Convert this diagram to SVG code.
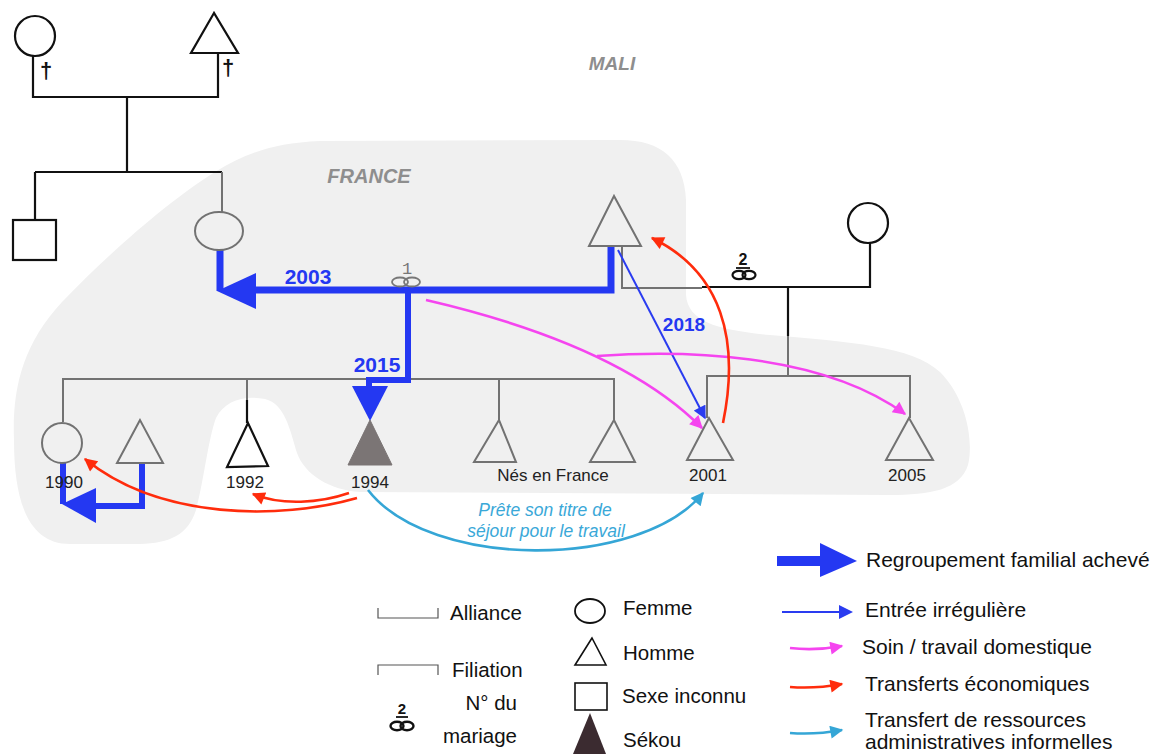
<svg xmlns="http://www.w3.org/2000/svg" width="1161" height="754" viewBox="0 0 1161 754">
<style>
.t{font-family:"Liberation Sans",Arial,sans-serif;}
.lbl{font-size:17px;fill:#222;text-anchor:middle;}
.yr{font-size:21px;font-weight:bold;fill:#2438f2;text-anchor:middle;}
.reg{font-size:20px;font-weight:bold;font-style:italic;fill:#8e8e8e;text-anchor:middle;}
.leg{font-size:20.5px;fill:#111;}
.legr{font-size:21px;fill:#111;}
.cy{font-size:17.5px;font-style:italic;fill:#3aa8d8;text-anchor:middle;}
.k{stroke:#111;stroke-width:2.2;fill:none;}
.g{stroke:#727272;stroke-width:2;fill:none;}
.blue{stroke:#2438f2;stroke-width:7;fill:none;}
.bluef{fill:#2438f2;}
.mag{stroke:#f545ef;stroke-width:2.6;fill:none;marker-end:url(#am);}
.red{stroke:#ff2c0c;stroke-width:2.6;fill:none;marker-end:url(#ar);}
.cyl{stroke:#35a6d6;stroke-width:2.6;fill:none;marker-end:url(#ac);}
.thin{stroke:#2a3cf0;stroke-width:2;fill:none;marker-end:url(#ab);}
</style>
<defs>
<marker id="am" viewBox="0 0 10 10" refX="9" refY="5" markerWidth="15" markerHeight="13" markerUnits="userSpaceOnUse" orient="auto"><path d="M0,0 L10,5 L0,10 z" fill="#f545ef"/></marker>
<marker id="ar" viewBox="0 0 10 10" refX="9" refY="5" markerWidth="15" markerHeight="13" markerUnits="userSpaceOnUse" orient="auto"><path d="M0,0 L10,5 L0,10 z" fill="#ff2c0c"/></marker>
<marker id="ac" viewBox="0 0 10 10" refX="9" refY="5" markerWidth="15" markerHeight="13" markerUnits="userSpaceOnUse" orient="auto"><path d="M0,0 L10,5 L0,10 z" fill="#35a6d6"/></marker>
<marker id="ab" viewBox="0 0 10 10" refX="9" refY="5" markerWidth="14" markerHeight="13" markerUnits="userSpaceOnUse" orient="auto"><path d="M0,0 L10,5 L0,10 z" fill="#2a3cf0"/></marker>
</defs>
<rect x="0" y="0" width="1161" height="754" fill="#ffffff"/>

<g id="france-region">
<path d="M 14,440 C 12,390 22,345 62,302 C 110,252 170,200 215,172 C 245,154 272,143 320,141 L 620,140 C 662,140 684,160 686,200 L 686,295 C 688,322 718,330 770,335 C 850,342 912,346 940,372 C 966,398 974,440 968,465 C 960,490 930,495 890,495 L 360,492 C 330,490 305,475 297,453 C 290,430 285,404 265,399 C 245,395 225,400 216,418 C 208,440 204,480 196,510 C 188,535 170,543 140,544 L 70,544 C 30,544 14,505 14,440 Z" fill="#f0f0f0"/>
<text class="t reg" x="369" y="183">FRANCE</text>
<text class="t reg" x="612" y="70" style="font-size:19px">MALI</text>
</g>

<g id="connectors">
<path class="k" d="M33,55 V97 H218 V53"/>
<path class="k" d="M127,97 V172"/>
<path class="k" d="M35,172 H222"/>
<path class="k" d="M35,172 V219"/>
<path class="g" d="M222,172 V212"/>
<path class="g" d="M622,247 V288 H702"/>
<path class="k" d="M702,287 H870 V242"/>
<path class="k" d="M788,287 V336"/>
<path class="g" d="M788,336 V376"/>
<path class="g" d="M707,418 V376 H910 V418"/>
<path class="g" d="M63,422 V379 H614 V420"/>
<path class="g" d="M247,379 V400"/>
<path class="k" d="M247,400 V423"/>
<path class="g" d="M499,379 V420"/>
<path class="blue" d="M220,250 V291"/>
<path class="blue" d="M250,290 H611 V247"/>
<polygon class="bluef" points="217,291 256,273 256,309"/>
<path class="blue" style="stroke-width:6" d="M408,290 V380 H369 V390"/>
<polygon class="bluef" points="352,386 388,386 370,421"/>
<path class="blue" style="stroke-width:6" d="M63,463 V504"/>
<path class="blue" style="stroke-width:6" d="M142,463 V506 H94"/>
<polygon class="bluef" points="62,504 96,488 96,523"/>
<path class="thin" d="M618,250 L705,418"/>
<text class="t yr" x="684" y="331" style="font-size:19px">2018</text>
<path class="mag" d="M426,300 Q 620,345 702,428"/>
<path class="mag" d="M597,356 C 680,350 820,352 905,414"/>
<path class="red" d="M723,423 C 740,340 722,272 652,238"/>
<path class="red" d="M349,493 C 320,503 282,506 253,494"/>
<path class="red" d="M357,498 C 280,520 160,520 85,459"/>
<path class="cyl" d="M368,490 C 430,570 640,570 703,493"/>
<text class="t cy" x="545" y="516">Prête son titre de</text>
<text class="t cy" x="546" y="537">séjour pour le travail</text>
<text class="t yr" x="308" y="284">2003</text>
<text class="t yr" x="377" y="372">2015</text>
</g>

<g id="marriage1">
<text x="407" y="274" style="font-family:'Liberation Mono',monospace;font-size:17px;fill:#777;text-anchor:middle">1</text>
<ellipse cx="400" cy="282" rx="8" ry="4.5" fill="none" stroke="#777" stroke-width="1.8"/>
<ellipse cx="412" cy="282" rx="8" ry="4.5" fill="none" stroke="#777" stroke-width="1.8"/>
</g>
<g id="marriage2">
<text x="743" y="265" style="font-family:'Liberation Sans',Arial,sans-serif;font-size:16px;font-weight:bold;fill:#111;text-anchor:middle">2</text>
<line x1="736" y1="268" x2="750" y2="268" stroke="#111" stroke-width="1.8"/>
<ellipse cx="739" cy="275" rx="6.5" ry="4.2" fill="none" stroke="#111" stroke-width="2.2"/>
<ellipse cx="749" cy="275" rx="6.5" ry="4.2" fill="none" stroke="#111" stroke-width="2.2"/>
</g>

<g id="grandmother">
<circle cx="35" cy="36" r="20" class="k"/>
<text x="46" y="78" style="font-family:'Liberation Sans',Arial,sans-serif;font-size:22px;font-weight:bold;fill:#111;text-anchor:middle">†</text>
</g>
<g id="grandfather">
<polygon points="214,13 191,53 238,53" class="k"/>
<text x="228" y="75" style="font-family:'Liberation Sans',Arial,sans-serif;font-size:22px;font-weight:bold;fill:#111;text-anchor:middle">†</text>
</g>
<g id="uncle-unknown"><rect x="13" y="220" width="43" height="40" class="k"/></g>
<g id="mother"><ellipse cx="219" cy="231" rx="24" ry="19" class="g"/></g>
<g id="father"><polygon points="614,196 589,246 641,246" class="g"/></g>
<g id="second-wife"><circle cx="868" cy="223" r="20" class="k"/></g>

<g id="child-1990"><circle cx="62" cy="443" r="20" class="g"/><text class="t lbl" x="64" y="488">1990</text></g>
<g id="child-brother"><polygon points="140,420 117,463 163,463" class="g"/></g>
<g id="child-1992"><polygon points="248,423 227,467 268,466" class="k"/><text class="t lbl" x="245" y="488">1992</text></g>
<g id="sekou"><polygon points="370,420 348,465 392,465" fill="#7b7575" stroke="#7b7575" stroke-width="1"/><text class="t lbl" x="370" y="488">1994</text></g>
<g id="born-france-1"><polygon points="499,420 474,462 516,462" class="g"/></g>
<g id="born-france-2"><polygon points="614,420 590,462 635,462" class="g"/><text class="t lbl" x="553" y="481">Nés en France</text></g>
<g id="child-2001"><polygon points="709,418 687,460 733,460" class="g"/><text class="t lbl" x="708" y="481">2001</text></g>
<g id="child-2005"><polygon points="909,418 886,460 933,460" class="g"/><text class="t lbl" x="907" y="481">2005</text></g>

<g id="legend-left">
<polyline points="378,608 378,618 438,618 438,608" fill="none" stroke="#555" stroke-width="1.2"/>
<text class="t leg" x="450" y="620">Alliance</text>
<polyline points="378,675 378,665 438,665 438,675" fill="none" stroke="#555" stroke-width="1.2"/>
<text class="t leg" x="452" y="677">Filiation</text>
<text x="402" y="714" style="font-family:'Liberation Sans',Arial,sans-serif;font-size:15px;font-weight:bold;fill:#111;text-anchor:middle">2</text>
<line x1="396" y1="717" x2="408" y2="717" stroke="#111" stroke-width="1.8"/>
<ellipse cx="397" cy="726" rx="6.5" ry="4.2" fill="none" stroke="#111" stroke-width="2.4"/>
<ellipse cx="407" cy="726" rx="6.5" ry="4.2" fill="none" stroke="#111" stroke-width="2.4"/>
<text class="t leg" x="517" y="710" text-anchor="end">N° du</text>
<text class="t leg" x="517" y="743" text-anchor="end">mariage</text>
<ellipse cx="590" cy="611" rx="15" ry="12" fill="none" stroke="#111" stroke-width="1.8"/>
<text class="t leg" x="623" y="615">Femme</text>
<polygon points="592,638 575,665 606,665" fill="none" stroke="#111" stroke-width="1.6"/>
<text class="t leg" x="623" y="660">Homme</text>
<rect x="575" y="683" width="32" height="27" fill="none" stroke="#111" stroke-width="1.6"/>
<text class="t leg" x="622" y="703">Sexe inconnu</text>
<polygon points="590,713 573,754 606,754" fill="#3b2b30"/>
<text class="t leg" x="623" y="747">Sékou</text>
</g>

<g id="legend-right">
<rect x="777" y="556" width="46" height="10" fill="#2438f2"/>
<polygon points="820,543 857,561 820,577" fill="#2438f2"/>
<text class="t legr" x="866" y="567">Regroupement familial achevé</text>
<line x1="782" y1="612" x2="841" y2="612" stroke="#2a3cf0" stroke-width="2"/>
<polygon points="839,605 853,612 839,619" fill="#2a3cf0"/>
<text class="t legr" x="865" y="617">Entrée irrégulière</text>
<path class="mag" d="M790,648 Q 815,651 842,646"/>
<text class="t legr" x="862" y="654">Soin / travail domestique</text>
<path class="red" d="M790,687 Q 815,689 842,684"/>
<text class="t legr" x="865" y="691">Transferts économiques</text>
<path class="cyl" d="M790,733 Q 815,735 842,730"/>
<text class="t legr" x="865" y="727">Transfert de ressources</text>
<text class="t legr" x="865" y="749">administratives informelles</text>
</g>
</svg>
